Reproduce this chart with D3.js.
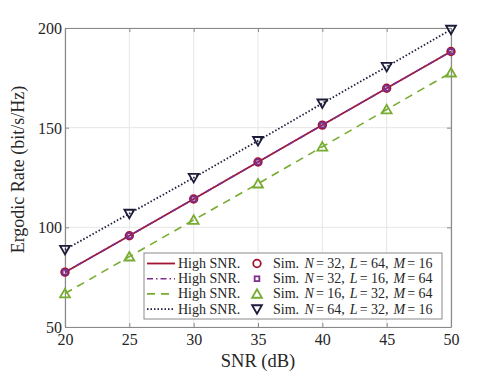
<!DOCTYPE html>
<html>
<head>
<meta charset="utf-8">
<script src="https://cdn.jsdelivr.net/npm/d3@7"></script>
<style>
  body { margin: 0; background: #fff; }
  svg, svg text { font-family: "Liberation Serif", "Times New Roman", "DejaVu Serif", serif !important; }
</style>
</head>
<body>
<div id="chart"></div>
<script>
var snr = [20, 25, 30, 35, 40, 45, 50];
var rate_n32_l64 = [77.5, 95.8, 114.2, 132.8, 151.3, 169.8, 188.2];
var rate_n32_l16 = [77.5, 95.8, 114.2, 132.8, 151.3, 169.8, 188.2];
var rate_n16_l32 = [66.8, 85.3, 103.7, 121.9, 140.4, 159.1, 177.6];
var rate_n64_l32 = [88.8, 106.9, 124.9, 143.4, 162.2, 180.6, 199.2];
var x_ticks = [20, 25, 30, 35, 40, 45, 50];
var y_ticks = [50, 100, 150, 200];
var sim_labels = [
  ["32", "64", "16"],
  ["32", "16", "64"],
  ["16", "32", "64"],
  ["64", "32", "16"]
];

var margin = { top: 28, right: 47, bottom: 47, left: 65 },
    width = 498 - margin.left - margin.right,
    height = 374 - margin.top - margin.bottom;

var svg = d3.select("#chart").append("svg")
    .attr("width", 498)
    .attr("height", 374)
    .attr("font-family", "Liberation Serif, serif");

var g = svg.append("g").attr("transform", "translate(" + margin.left + "," + margin.top + ")");

var x = d3.scaleLinear().domain([20, 50]).range([0, width]),
    y = d3.scaleLinear().domain([50, 200]).range([height, 0]);

// grid
g.selectAll(".gx").data(x_ticks).enter().append("line")
    .attr("x1", d => x(d)).attr("x2", d => x(d))
    .attr("y1", 0).attr("y2", height)
    .attr("stroke", "#e6e6e6").attr("stroke-width", 1);
g.selectAll(".gy").data(y_ticks).enter().append("line")
    .attr("x1", 0).attr("x2", width)
    .attr("y1", d => y(d)).attr("y2", d => y(d))
    .attr("stroke", "#e6e6e6").attr("stroke-width", 1);

// axes
var xAxis = g.append("g").attr("transform", "translate(0," + height + ")")
    .call(d3.axisBottom(x).tickValues(x_ticks).tickSizeInner(-4).tickSizeOuter(0).tickPadding(7));
var xTop = g.append("g")
    .call(d3.axisTop(x).tickValues(x_ticks).tickSizeInner(-4).tickSizeOuter(0).tickFormat(""));
var yAxis = g.append("g")
    .call(d3.axisLeft(y).tickValues(y_ticks).tickSizeInner(-4).tickSizeOuter(0).tickPadding(3));
var yRight = g.append("g").attr("transform", "translate(" + width + ",0)")
    .call(d3.axisRight(y).tickValues(y_ticks).tickSizeInner(-4).tickSizeOuter(0).tickFormat(""));

[xAxis, xTop, yAxis, yRight].forEach(function (a) {
  a.attr("font-family", "Liberation Serif, serif");
  a.selectAll(".domain").attr("stroke", "#8a8a8a").attr("stroke-width", 1.2);
  a.selectAll(".tick line").attr("stroke", "#8a8a8a");
  a.selectAll("text").attr("fill", "#262626").style("font-size", "16px");
});
yAxis.selectAll(".tick text").attr("dy", "0.35em");

svg.append("text")
    .attr("x", margin.left + width / 2).attr("y", 367)
    .attr("text-anchor", "middle").attr("fill", "#262626")
    .style("font-size", "18.5px").text("SNR (dB)");
svg.append("text")
    .attr("transform", "translate(24," + (margin.top + height / 2 - 8) + ") rotate(-90)")
    .attr("text-anchor", "middle").attr("fill", "#262626")
    .style("font-size", "18px").text("Ergodic Rate (bit/s/Hz)");

var series = [
  { values: rate_n32_l64, color: "#a2142f", dash: null, width: 1.8 },
  { values: rate_n32_l16, color: "#7e2f8e", dash: "6,3,1.5,3", width: 1.6 },
  { values: rate_n16_l32, color: "#77ac30", dash: "8,6", width: 1.6 },
  { values: rate_n64_l32, color: "#1c1c3a", dash: "1.5,2", width: 1.8 }
];

var line = d3.line()
    .x(function (d, i) { return x(snr[i]); })
    .y(function (d) { return y(d); });

series.forEach(function (s) {
  g.append("path")
      .datum(s.values)
      .attr("fill", "none")
      .attr("stroke", s.color)
      .attr("stroke-width", s.width)
      .attr("stroke-dasharray", s.dash)
      .attr("d", line);
});

var sym = [
  d3.symbol().type(d3.symbolCircle).size(45),
  d3.symbol().type(d3.symbolSquare).size(22),
  d3.symbol().type(d3.symbolTriangle).size(42),
  d3.symbol().type(d3.symbolTriangle).size(42)
];

function drawMarker(sel, k, cx, cy) {
  var p = sel.append("path")
      .attr("d", sym[k]())
      .attr("fill", "none")
      .attr("stroke", series[k].color)
      .attr("stroke-width", 1.8);
  if (k === 2) p.attr("transform", "translate(" + cx + "," + (cy + 1) + ")");
  else if (k === 3) p.attr("transform", "translate(" + cx + "," + (cy - 1) + ") rotate(180)");
  else p.attr("transform", "translate(" + cx + "," + cy + ")");
}

series.forEach(function (s, k) {
  s.values.forEach(function (v, i) {
    drawMarker(g, k, x(snr[i]), y(v));
  });
});

// legend
var leg = svg.append("g").attr("transform", "translate(144,253)");
leg.append("rect").attr("width", 298).attr("height", 66)
    .attr("fill", "#fff").attr("stroke", "#8a8a8a").attr("stroke-width", 1);

series.forEach(function (s, k) {
  var yy = 10.5 + k * 15.2;
  leg.append("line")
      .attr("x1", 3).attr("x2", 31).attr("y1", yy).attr("y2", yy)
      .attr("stroke", s.color).attr("stroke-width", s.width)
      .attr("stroke-dasharray", s.dash);
  leg.append("text").attr("x", 34).attr("y", yy + 4.5)
      .attr("fill", "#262626").style("font-size", "14px").text("High SNR.");
  drawMarker(leg, k, 113, yy);
  var t = leg.append("text").attr("x", 129).attr("y", yy + 4.5)
      .attr("fill", "#262626").style("font-size", "14px");
  var lab = sim_labels[k];
  t.append("tspan").text("Sim. ");
  t.append("tspan").attr("dx", 2).style("font-style", "italic").text("N");
  t.append("tspan").attr("dx", 2).text("= " + lab[0] + ",");
  t.append("tspan").attr("dx", 5).style("font-style", "italic").text("L");
  t.append("tspan").attr("dx", 2).text("= " + lab[1] + ",");
  t.append("tspan").attr("dx", 5).style("font-style", "italic").text("M");
  t.append("tspan").attr("dx", 2).text("= " + lab[2]);
});
</script>
</body>
</html>
